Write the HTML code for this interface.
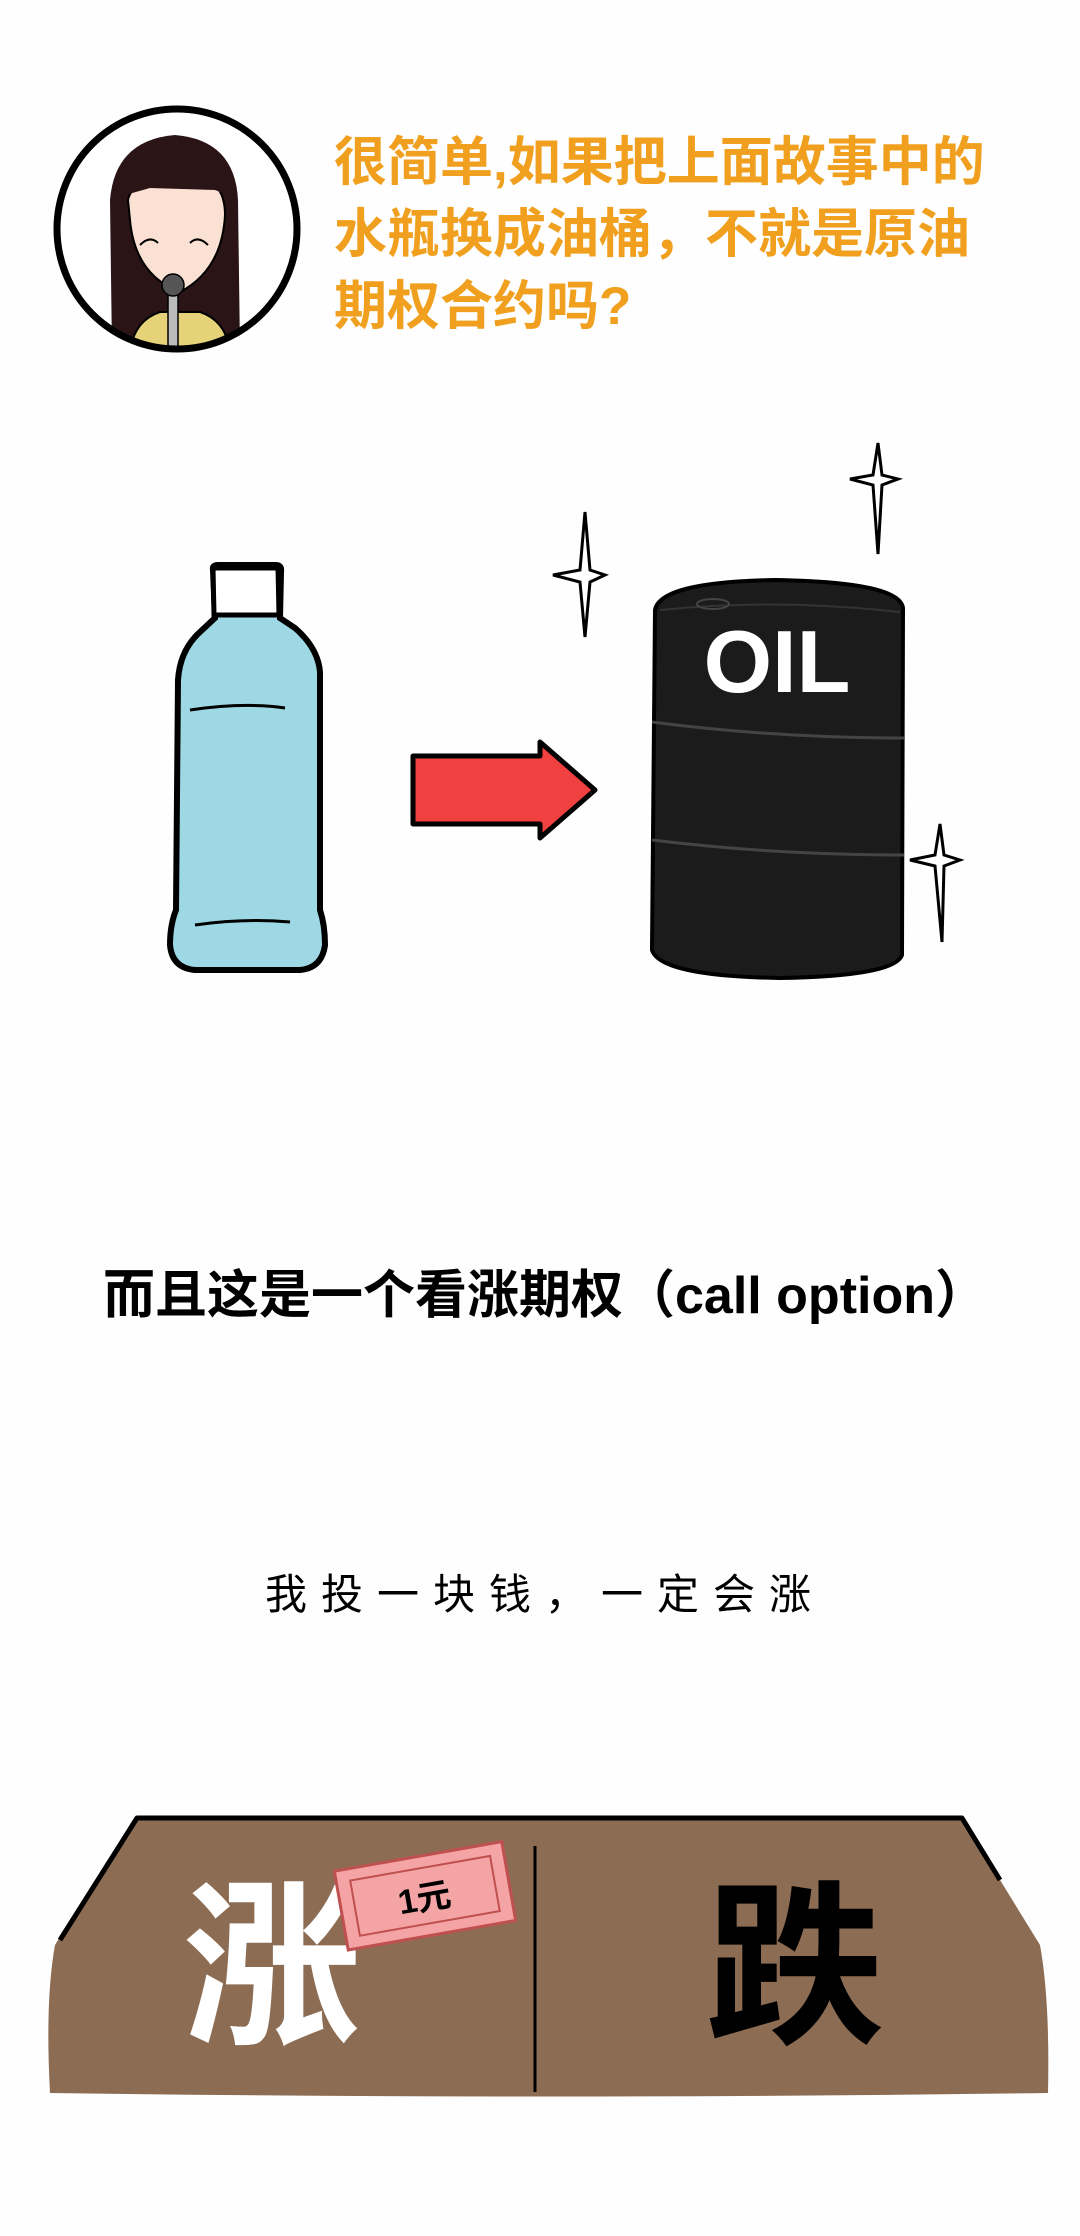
<!DOCTYPE html>
<html><head><meta charset="utf-8"><style>
html,body{margin:0;padding:0;background:#fefefe;}
svg{display:block}
text{font-family:"Liberation Sans","Noto Sans CJK SC",sans-serif;}
</style></head><body>
<svg width="1080" height="2236" viewBox="0 0 1080 2236" xmlns="http://www.w3.org/2000/svg">
<rect width="1080" height="2236" fill="#fefefe"/>
<defs><clipPath id="c"><circle cx="177" cy="229" r="120"/></clipPath></defs>
<circle cx="177" cy="229" r="121" fill="#fff"/>
<g clip-path="url(#c)">
 <path d="M112 350 L110 200 Q115 140 175 135 Q235 140 238 200 L240 350 Z" fill="#2a1416"/>
 <path d="M130 350 Q135 320 160 312 L200 312 Q225 320 230 350 Z" fill="#e6d278" stroke="#000" stroke-width="2"/>
 <path d="M128 200 Q130 190 140 185 L215 185 Q225 195 225 215 Q222 270 180 292 Q135 275 130 220 Z" fill="#fbe0d4" stroke="#000" stroke-width="2"/>
 <path d="M125 195 Q140 150 175 148 Q215 150 228 195 L215 190 L150 188 Z" fill="#2a1416"/>
 <path d="M140 245 Q150 235 158 243 M190 243 Q198 235 208 245" stroke="#000" stroke-width="2" fill="none"/>
 <rect x="168" y="285" width="10" height="70" fill="#bbb" stroke="#000" stroke-width="1.5"/>
 <circle cx="173" cy="285" r="11" fill="#555" stroke="#000" stroke-width="1.5"/>
</g>
<circle cx="177" cy="229" r="120" fill="none" stroke="#000" stroke-width="7"/>
<g font-size="53" font-weight="bold" fill="#f0a01e">
<text x="334" y="180">很简单,如果把上面故事中的</text>
<text x="334" y="252">水瓶换成油桶，不就是原油</text>
<text x="334" y="324">期权合约吗?</text>
</g>
<path d="M213 570 Q212 565 218 565 L276 565 Q282 565 281 572 L280 618 L295 628 Q318 648 320 672 L320 910 Q325 925 325 945 Q322 968 300 970 L195 970 Q172 968 170 945 Q170 925 176 910 L178 680 Q180 650 200 632 L215 618 Z" fill="#9dd8e4" stroke="#000" stroke-width="6"/>
<path d="M213 568 L278 568 L279 615 L214 615 Z" fill="#fff" stroke="#000" stroke-width="5"/>
<path d="M190 710 Q245 702 285 708 M195 925 Q245 918 290 922" stroke="#000" stroke-width="3" fill="none"/>
<path d="M413 756 L540 756 L540 742 L595 790 L540 838 L540 824 L413 824 Z" fill="#f04040" stroke="#000" stroke-width="5" stroke-linejoin="round"/>
<path d="M655 610 Q660 582 775 580 Q900 582 903 608 L902 955 Q895 976 780 978 Q660 976 652 950 Z" fill="#1c1b1c" stroke="#000" stroke-width="4"/>
<path d="M660 610 Q775 598 900 612" stroke="#333" stroke-width="2" fill="none"/>
<ellipse cx="713" cy="604" rx="16" ry="5" fill="none" stroke="#444" stroke-width="2"/>
<path d="M652 722 Q775 738 904 738 M652 840 Q775 855 904 855" stroke="#444" stroke-width="3" fill="none"/>
<text x="777" y="692" font-size="88" font-weight="bold" fill="#fff" text-anchor="middle">OIL</text>
<g fill="#fff" stroke="#000" stroke-width="3">
<path d="M585 512 L590 570 L605 575 L590 582 L585 637 L580 582 L553 575 L580 570 Z"/>
<path d="M878 443 L882 475 L898 479 L882 485 L878 554 L873 485 L850 479 L873 475 Z"/>
<path d="M940 824 L944 855 L960 860 L944 866 L942 942 L935 866 L910 860 L935 855 Z"/>
</g>
<text x="545" y="1313" font-size="52" font-weight="bold" fill="#000" text-anchor="middle">而且这是一个看涨期权（call option）</text>
<text x="545" y="1609" font-size="42" fill="#000" text-anchor="middle" letter-spacing="14">我投一块钱，一定会涨</text>
<path d="M137 1818 L962 1818 Q1000 1880 1040 1945 Q1050 2000 1048 2093 Q540 2100 50 2093 Q45 2000 55 1945 Q95 1880 137 1818 Z" fill="#8c6c53"/>
<path d="M60 1940 L137 1818 L962 1818 L1000 1880" stroke="#000" stroke-width="5" fill="none" stroke-linejoin="round"/>
<path d="M535 1846 L535 2092" stroke="#000" stroke-width="3"/>
<text x="272" y="2030" font-size="178" font-weight="bold" fill="#fff" text-anchor="middle">涨</text>
<text x="795" y="2030" font-size="178" font-weight="bold" fill="#000" text-anchor="middle">跌</text>
<g transform="rotate(-10 424 1896)">
<rect x="340" y="1856" width="170" height="80" fill="#f4a4a4" stroke="#c05050" stroke-width="3"/>
<rect x="354" y="1868" width="142" height="56" fill="none" stroke="#c05050" stroke-width="2"/>
<text x="424" y="1910" font-size="34" font-weight="bold" fill="#000" text-anchor="middle">1元</text>
</g>
</svg>
</body></html>
